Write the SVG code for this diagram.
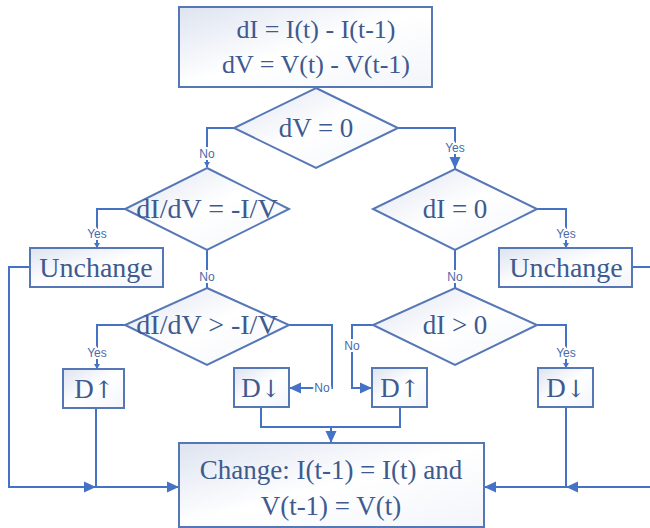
<svg xmlns="http://www.w3.org/2000/svg" width="650" height="528" viewBox="0 0 650 528">
<defs>
<linearGradient id="g" x1="0" y1="0" x2="1" y2="1">
<stop offset="0" stop-color="#dde3f0"/>
<stop offset="0.5" stop-color="#ffffff"/>
<stop offset="1" stop-color="#f3f5fa"/>
</linearGradient>
<marker id="aL" markerUnits="userSpaceOnUse" markerWidth="14" markerHeight="12" refX="12" refY="6" orient="auto">
<path d="M0,0.5 L12,6 L0,11.5 Z" fill="#4472c4"/>
</marker>
<marker id="aS" markerUnits="userSpaceOnUse" markerWidth="6" markerHeight="6" refX="5" refY="3" orient="auto">
<path d="M0,0 L5,3 L0,6 Z" fill="#4472c4"/>
</marker>
<style>
.box{fill:url(#g);stroke:#5677b5;stroke-width:2}
.t{font-family:"Liberation Serif","Times New Roman",serif;fill:#3e5a8f;text-anchor:middle}
.ar{font-family:"DejaVu Serif","Liberation Serif",serif;font-size:24px}
.c{fill:none;stroke:#4472c4;stroke-width:2}
.l{font-family:"Liberation Sans",Arial,sans-serif;font-size:12px;fill:#4a6aa8;text-anchor:middle;stroke:#ffffff;stroke-width:4;paint-order:stroke;stroke-linejoin:round}
</style>
</defs>
<rect width="650" height="528" fill="#ffffff"/>
<g id="connectors">
<path class="c" d="M234,128 H207 V167" marker-end="url(#aS)"/>
<path class="c" d="M398,128 H455 V169" marker-end="url(#aL)"/>
<path class="c" d="M125,209 H97 V248" marker-end="url(#aS)"/>
<path class="c" d="M207,250 V288"/>
<path class="c" d="M537,209 H566 V248" marker-end="url(#aS)"/>
<path class="c" d="M455,250 V288"/>
<path class="c" d="M125,325 H97 V369" marker-end="url(#aS)"/>
<path class="c" d="M289,325 H332 V388 H289" marker-end="url(#aL)"/>
<path class="c" d="M373,325 H352 V388 H372" marker-end="url(#aL)"/>
<path class="c" d="M537,325 H566 V368" marker-end="url(#aS)"/>
<path class="c" d="M261,407 V427 H400 V407"/>
<path class="c" d="M331,427 V443" marker-end="url(#aL)"/>
<path class="c" d="M30,267 H9 V487 H96" marker-end="url(#aL)"/>
<path class="c" d="M96,408 V487 H179" marker-end="url(#aL)"/>
<path class="c" d="M632,267 H660 V487 H566" marker-end="url(#aL)"/>
<path class="c" d="M566,407 V487 H484" marker-end="url(#aL)"/>
<text class="l" x="207" y="158">No</text>
<text class="l" x="455" y="152">Yes</text>
<text class="l" x="97" y="238">Yes</text>
<text class="l" x="207" y="281">No</text>
<text class="l" x="566" y="238">Yes</text>
<text class="l" x="455" y="281">No</text>
<text class="l" x="97" y="357">Yes</text>
<text class="l" x="322" y="392">No</text>
<text class="l" x="352" y="350">No</text>
<text class="l" x="566" y="357">Yes</text>
</g>
<g id="start">
<rect class="box" x="179" y="7" width="253" height="80"/>
<text class="t" x="316" y="38" font-size="26">dI = I(t) - I(t-1)</text>
<text class="t" x="316" y="73" font-size="26">dV = V(t) - V(t-1)</text>
</g>
<g id="dV0">
<polygon class="box" points="316,88 398,128 316,168 234,128"/>
<text class="t" x="316" y="137" font-size="27">dV = 0</text>
</g>
<g id="dIdVeq">
<polygon class="box" points="207,168 289,209 207,250 125,209"/>
<text class="t" x="207" y="218" font-size="28">dI/dV = -I/V</text>
</g>
<g id="dI0">
<polygon class="box" points="455,169 537,209 455,250 373,209"/>
<text class="t" x="455" y="218" font-size="27">dI = 0</text>
</g>
<g id="unchangeL">
<rect class="box" x="30" y="248" width="133" height="39"/>
<text class="t" x="96" y="277" font-size="28">Unchange</text>
</g>
<g id="unchangeR">
<rect class="box" x="499" y="248" width="133" height="39"/>
<text class="t" x="566" y="277" font-size="28">Unchange</text>
</g>
<g id="dIdVgt">
<polygon class="box" points="207,288 289,325 207,365 125,325"/>
<text class="t" x="207" y="334" font-size="28">dI/dV &gt; -I/V</text>
</g>
<g id="dIgt0">
<polygon class="box" points="455,288 537,325 455,365 373,325"/>
<text class="t" x="455" y="334" font-size="27">dI &gt; 0</text>
</g>
<g id="upL">
<rect class="box" x="63" y="369" width="61" height="39"/>
<text class="t" x="94" y="398" font-size="27">D<tspan class="ar">↑</tspan></text>
</g>
<g id="downL">
<rect class="box" x="234" y="368" width="55" height="39"/>
<text class="t" x="261" y="397" font-size="27">D<tspan class="ar">↓</tspan></text>
</g>
<g id="upR">
<rect class="box" x="372" y="368" width="55" height="39"/>
<text class="t" x="400" y="397" font-size="27">D<tspan class="ar">↑</tspan></text>
</g>
<g id="downR">
<rect class="box" x="538" y="368" width="55" height="39"/>
<text class="t" x="566" y="397" font-size="27">D<tspan class="ar">↓</tspan></text>
</g>
<g id="change">
<rect class="box" x="179" y="443" width="305" height="84"/>
<text class="t" x="331" y="479" font-size="27">Change: I(t-1) = I(t) and</text>
<text class="t" x="331" y="515" font-size="27">V(t-1) = V(t)</text>
</g>
</svg>
